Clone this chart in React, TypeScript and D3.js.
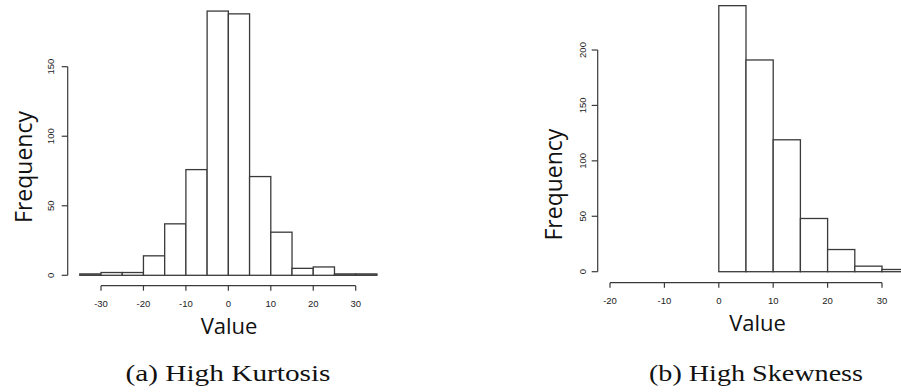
import React from "react";
import * as d3 from "d3";

// bin edges (left edge of each 5-wide bin)
const kurtBinStarts = [-35, -30, -25, -20, -15, -10, -5, 0, 5, 10, 15, 20, 25, 30];
const kurtCounts = [1, 2, 2, 14, 37, 76, 190, 188, 71, 31, 5, 6, 1, 1];
const kurtXTicks = [-30, -20, -10, 0, 10, 20, 30];
const kurtYTicks = [0, 50, 100, 150];

const skewBinStarts = [0, 5, 10, 15, 20, 25, 30];
const skewCounts = [240, 191, 119, 48, 20, 5, 2];
const skewXTicks = [-20, -10, 0, 10, 20, 30];
const skewYTicks = [0, 50, 100, 150, 200];

const binWidth = 5;
const stroke = "#3a3a3a";

type PanelProps = {
  binStarts: number[];
  counts: number[];
  xTicks: number[];
  yTicks: number[];
  x: d3.ScaleLinear<number, number>;
  y: d3.ScaleLinear<number, number>;
  yAxisX: number;
  xAxisY: number;
  yLabelX: number;
  yTickLabelX: number;
  xTickLabelY: number;
  valueX: number;
  valueY: number;
  caption: string;
  captionX: number;
  captionW: number;
};

const Panel = (p: PanelProps) => {
  const [x0, x1] = d3.extent(p.xTicks) as [number, number];
  const [y0, y1] = d3.extent(p.yTicks) as [number, number];
  return (
    <g>
      {/* bars */}
      {p.binStarts.map((b, i) => (
        <rect
          key={b}
          x={p.x(b)}
          y={p.y(p.counts[i])}
          width={p.x(b + binWidth) - p.x(b)}
          height={p.y(0) - p.y(p.counts[i])}
          fill="#fff"
          stroke={stroke}
          strokeWidth={1.3}
        />
      ))}

      {/* y axis */}
      <line x1={p.yAxisX} x2={p.yAxisX} y1={p.y(y0)} y2={p.y(y1)} stroke={stroke} strokeWidth={1.2} />
      {p.yTicks.map((t) => (
        <g key={t}>
          <line x1={p.yAxisX - 6} x2={p.yAxisX} y1={p.y(t)} y2={p.y(t)} stroke={stroke} strokeWidth={1.2} />
          <text
            transform={`translate(${p.yTickLabelX},${p.y(t)}) rotate(-90)`}
            textAnchor="middle"
            fontFamily="Liberation Sans, Arial, sans-serif"
            fontSize={9.5}
            fill="#222"
          >
            {t}
          </text>
        </g>
      ))}

      {/* x axis */}
      <line x1={p.x(x0)} x2={p.x(x1)} y1={p.xAxisY} y2={p.xAxisY} stroke={stroke} strokeWidth={1.2} />
      {p.xTicks.map((t) => (
        <g key={t}>
          <line x1={p.x(t)} x2={p.x(t)} y1={p.xAxisY} y2={p.xAxisY + 5} stroke={stroke} strokeWidth={1.2} />
          <text
            x={p.x(t)}
            y={p.xTickLabelY}
            textAnchor="middle"
            fontFamily="Liberation Sans, Arial, sans-serif"
            fontSize={9.5}
            fill="#222"
          >
            {t < 0 ? `-${Math.abs(t)}` : t}
          </text>
        </g>
      ))}

      {/* axis titles */}
      <text
        transform={`translate(${p.yLabelX},${(p.y(y0) + p.y(150)) / 2 - 4}) rotate(-90)`}
        textAnchor="middle"
        fontFamily="Open Sans, sans-serif"
        fontSize={23}
        fill="#111"
      >
        Frequency
      </text>
      <text x={p.valueX} y={p.valueY} textAnchor="middle" fontFamily="Open Sans, sans-serif" fontSize={22} fill="#111">
        Value
      </text>

      {/* caption */}
      <text
        x={p.captionX}
        y={381}
        textAnchor="middle"
        fontFamily="Liberation Serif, serif"
        fontSize={24}
        textLength={p.captionW}
        lengthAdjust="spacingAndGlyphs"
        fill="#111"
      >
        {p.caption}
      </text>
    </g>
  );
};

const App = () => {
  const kx = d3.scaleLinear().domain([-30, 30]).range([101, 355.7]);
  const ky = d3.scaleLinear().domain([0, 150]).range([275.3, 66.7]);
  const sx = d3.scaleLinear().domain([-20, 30]).range([610, 882]);
  const sy = d3.scaleLinear().domain([0, 200]).range([271.7, 50]);

  return (
    <svg
      width={901}
      height={392}
      style={{ position: "absolute", left: 0, top: 0, background: "#fff" }}
    >
      <Panel
        binStarts={kurtBinStarts}
        counts={kurtCounts}
        xTicks={kurtXTicks}
        yTicks={kurtYTicks}
        x={kx}
        y={ky}
        yAxisX={67.7}
        xAxisY={285.7}
        yLabelX={32}
        yTickLabelX={54}
        xTickLabelY={307}
        valueX={229}
        valueY={334}
        caption="(a) High Kurtosis"
        captionX={228}
        captionW={205}
      />
      <Panel
        binStarts={skewBinStarts}
        counts={skewCounts}
        xTicks={skewXTicks}
        yTicks={skewYTicks}
        x={sx}
        y={sy}
        yAxisX={597.7}
        xAxisY={282.7}
        yLabelX={562}
        yTickLabelX={586}
        xTickLabelY={304}
        valueX={757.5}
        valueY={331}
        caption="(b) High Skewness"
        captionX={756}
        captionW={214}
      />
    </svg>
  );
};

export default App;
